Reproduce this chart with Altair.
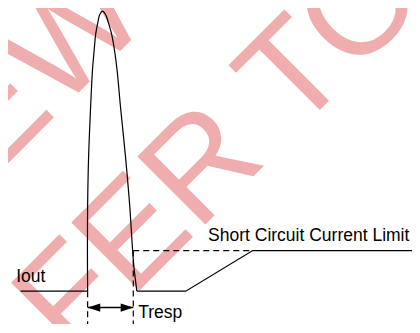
import altair as alt
import pandas as pd

# ---- data (x = time position, y = current level, arbitrary units) ----
pulse_t = [86, 85.8, 86, 87, 89, 91, 92.7, 94.3, 96.7, 98.3, 101.3,
           104.7, 107, 110.7, 113.7, 116.3, 120, 125, 129.3, 133.3, 136.7]
pulse_i = [34, 73, 123, 173, 223, 263, 283, 300, 313, 319.7, 323.7,
           319.7, 313, 300, 283, 263, 223, 173, 123, 63, 34]

iout_t = [17, 86]
iout_i = [34, 34]
limit_t = [136.7, 187, 256, 420]
limit_i = [34, 34, 76, 76]

dash_seg = ["h", "h", "l", "l", "r", "r"]
dash_t = [133, 256, 86, 86, 133, 133]
dash_i = [76, 76, 34, 0, 76, 0]

arrow_t = [86, 133]
arrow_i = [17, 17]

label_text = ["Iout", "Short Circuit Current Limit", "Tresp"]
label_t = [12.5, 210, 138]
label_i = [43, 86.3, 5.7]

wm_text = ["NEW", "REFER TO"]
wm_t = [151.8, 438.3]
wm_i = [314.8, 335.3]

# ---- tables ----
pulse_df = pd.DataFrame({"t": pulse_t, "i": pulse_i, "seq": range(len(pulse_t))})
solid_df = pd.DataFrame({
    "t": iout_t + limit_t,
    "i": iout_i + limit_i,
    "seg": ["a"] * len(iout_t) + ["b"] * len(limit_t),
    "seq": list(range(len(iout_t))) + list(range(len(limit_t))),
})
dash_df = pd.DataFrame({"t": dash_t, "i": dash_i, "seg": dash_seg,
                        "seq": range(len(dash_t))})
arrow_df = pd.DataFrame({"t1": [arrow_t[0]], "t2": [arrow_t[1]], "i": [arrow_i[0]]})
head_l_df = pd.DataFrame({"t": [arrow_t[0]], "i": [arrow_i[0]]})
head_r_df = pd.DataFrame({"t": [arrow_t[1]], "i": [arrow_i[1]]})
label_df = pd.DataFrame({"label": label_text, "t": label_t, "i": label_i})
wm_df = pd.DataFrame({"label": wm_text, "t": wm_t, "i": wm_i})

# chart must fit inside 420x333 window with 8px page margin
W, H = 404, 316
xs = alt.Scale(domain=[4, 420], nice=False, zero=False)
ys = alt.Scale(domain=[0, 327], nice=False, zero=False)
K = W / 416.0  # pixel scale factor for sizes


def X(f):
    return alt.X(f, type="quantitative", scale=xs, axis=None)


def Y(f):
    return alt.Y(f, type="quantitative", scale=ys, axis=None)


FONT = "Liberation Sans"

watermark = alt.Chart(wm_df).mark_text(
    font=FONT, fontSize=round(144 * K, 1), angle=315, align="right",
    baseline="alphabetic", color="#EFADAD"
).encode(x=X("t"), y=Y("i"), text="label:N")

pulse = alt.Chart(pulse_df).mark_line(
    interpolate="catmull-rom", color="black", strokeWidth=1.2
).encode(x=X("t"), y=Y("i"), order="seq:Q")

solid = alt.Chart(solid_df).mark_line(color="black", strokeWidth=1.2).encode(
    x=X("t"), y=Y("i"), detail="seg:N", order="seq:Q")

dashed = alt.Chart(dash_df).mark_line(
    color="black", strokeWidth=1.2, strokeDash=[6, 4]
).encode(x=X("t"), y=Y("i"), detail="seg:N", order="seq:Q")

shaft = alt.Chart(arrow_df).mark_rule(color="black", strokeWidth=1.4).encode(
    x=X("t1"), x2="t2", y=Y("i"))

head_size = round((13 * K) ** 2)
head_l = alt.Chart(head_l_df).mark_point(
    shape="M0,0L2,-0.65L2,0.65Z", size=head_size, filled=True, color="black",
    opacity=1, strokeWidth=0
).encode(x=X("t"), y=Y("i"))

head_r = alt.Chart(head_r_df).mark_point(
    shape="M0,0L-2,-0.65L-2,0.65Z", size=head_size, filled=True, color="black",
    opacity=1, strokeWidth=0
).encode(x=X("t"), y=Y("i"))

labels = alt.Chart(label_df).mark_text(
    font=FONT, fontSize=round(18 * K, 1), align="left", baseline="alphabetic",
    color="black"
).encode(x=X("t"), y=Y("i"), text="label:N")

chart = alt.layer(
    watermark, pulse, solid, dashed, shaft, head_l, head_r, labels
).properties(
    width=W, height=H, padding=0,
    autosize=alt.AutoSizeParams(type="none"),
    background="white",
).configure_view(stroke=None)

chart.save("out.html", embed_options={"renderer": "svg", "actions": False})
